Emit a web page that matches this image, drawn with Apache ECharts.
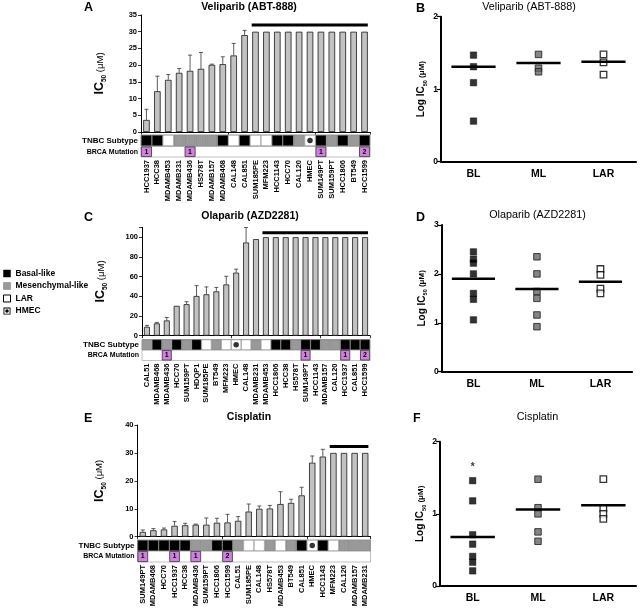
<!DOCTYPE html>
<html><head><meta charset="utf-8">
<script src="https://cdn.jsdelivr.net/npm/echarts@6/dist/echarts.min.js"></script>
<style>html,body{margin:0;padding:0;background:#fff}#c{width:641px;height:616px}</style>
</head><body><div id="c"></div>
<script>
// ---------------- DATA ----------------
// Panel A: Veliparib (ABT-888)
const catA = ['HCC1937','HCC38','MDAMB453','MDAMB231','MDAMB436','HS578T','MDAMB157','MDAMB468','CAL148','CAL851','SUM185PE','MFM223','HCC1143','HCC70','CAL120','HMEC','SUM149PT','SUM159PT','HCC1806','BT549','HCC1599'];
const valA = [3.6,12.2,15.6,17.7,18.3,18.9,20.1,20.3,22.9,29.0,30,30,30,30,30,30,30,30,30,30,30];
const errA = [3.2,4.5,1.6,1.3,4.7,4.9,0.2,2.2,3.6,1.4,0,0,0,0,0,0,0,0,0,0,0];
const subA = ['B','B','L','M','M','M','M','B','L','B','L','L','B','B','M','H','B','M','B','M','B'];
const brcaA = ['1','','','','1','','','','','','','','','','','','1','','','','2'];
const capA = {from:'SUM185PE', y:32};
const ticksA = {max:35, interval:5};

// Panel C: Olaparib (AZD2281)
const catC = ['CAL51','MDAMB468','MDAMB436','HCC70','SUM159PT','HDQP1','SUM185PE','BT549','MFM223','HMEC','CAL148','MDAMB231','MDAMB453','HCC1806','HCC38','HS578T','SUM149PT','HCC1143','MDAMB157','CAL120','HCC1937','CAL851','HCC1599'];
const valC = [9,12.5,15.5,30.3,32,40.3,42,45,52,64,94.6,98,100,100,100,100,100,100,100,100,100,100,100];
const errC = [1.5,1,3,0,2.5,10.5,7.5,4,8.3,3.5,15.2,0,0,0,0,0,0,0,0,0,0,0,0];
const subC = ['M','B','M','B','M','B','L','M','L','H','L','M','L','B','B','M','B','B','M','M','B','B','B'];
const brcaC = ['','','1','','','','','','','','','','','','','','1','','','','1','','2'];
const capC = {from:'MDAMB453', y:104.5};
const ticksC = {max:110, interval:20};

// Panel E: Cisplatin
const catE = ['SUM149PT','MDAMB468','HCC70','HCC1937','HCC38','MDAMB436','SUM159PT','HCC1806','HCC1599','CAL51','SUM185PE','CAL148','HS578T','MDAMB453','BT549','CAL851','HMEC','HCC1143','MFM223','CAL120','MDAMB157','MDAMB231'];
const valE = [1.7,2.3,2.6,3.9,4.1,4.3,4.3,5.0,5.1,5.7,9.0,10.0,10.1,11.7,12.1,14.8,26.5,28.7,30,30,30,30];
const errE = [0.7,0.6,0.5,1.5,0.7,0.2,2.4,1.6,2.9,1.5,2.7,1.0,1.1,4.4,1.3,2.9,2.4,2.6,0,0,0,0];
const subE = ['B','B','B','B','B','M','M','B','B','M','L','L','M','L','M','B','H','B','L','M','M','M'];
const brcaE = ['1','','','1','','1','','','2','','','','','','','','','','','','',''];
const capE = {from:'MFM223', y:32.3};
const ticksE = {max:40, interval:10};

// Scatter panels (log IC50 by subtype)
const groups = ['BL','ML','LAR'];
const logB = [[1.47,1.31,1.09,0.56],[1.48,1.29,1.24],[1.48,1.37,1.2]];
const meanB = [1.31,1.36,1.38];
const logD = [[2.45,2.3,2.22,2.0,1.6,1.48,1.06],[2.35,2.0,1.64,1.5,1.16,0.92],[2.1,1.98,1.7,1.6]];
const meanD = [1.9,1.69,1.84];
const logF = [[1.46,1.18,0.71,0.58,0.41,0.33,0.21],[1.48,1.085,1.0,0.75,0.62],[1.48,1.076,1.0,0.93]];
const meanF = [0.68,1.06,1.12];
const starF = [[0,1.65]];

const legendNames = ['Basal-like','Mesenchymal-like','LAR','HMEC'];

// ---------------- STYLE / LAYOUT ----------------
const FONT = '"Liberation Sans", Arial, Helvetica, sans-serif';
const SUB_KEYS = ['B','M','L','H'];
const SUB_COLOR = {B:'#000000', M:'#999999', L:'#ffffff', H:'#ffffff'};
const MUT_COLOR = '#d17fe0';

const grids = [], xAxes = [], yAxes = [], series = [];
function addGrid(g){ grids.push(Object.assign({containLabel:false}, g)); return grids.length - 1; }

function errRender(params, api){
  const e = api.value(2);
  if (!e) return null;
  const x = api.value(0), y = api.value(1);
  const p0 = api.coord([x, y]), p1 = api.coord([x, y + e]);
  return {type:'group', children:[
    {type:'line', shape:{x1:p0[0], y1:p0[1], x2:p1[0], y2:p1[1]}, style:{stroke:'#333', lineWidth:0.8}},
    {type:'line', shape:{x1:p1[0]-2, y1:p1[1], x2:p1[0]+2, y2:p1[1]}, style:{stroke:'#333', lineWidth:0.8}}
  ]};
}
function capRender(params, api){
  const a = api.coord([api.value(0), api.value(2)]);
  const b = api.coord([api.value(1), api.value(2)]);
  const bw = api.size([1, 0])[0];
  return {type:'line', shape:{x1:a[0]-bw*0.35, y1:a[1], x2:b[0]+bw*0.3, y2:b[1]}, style:{stroke:'#000', lineWidth:3}};
}
function meanRender(params, api){
  const p = api.coord([api.value(0), api.value(1)]);
  const bw = api.size([1, 0])[0];
  const hw = bw * 0.34;
  return {type:'line', shape:{x1:p[0]-hw, y1:p[1], x2:p[0]+hw, y2:p[1]}, style:{stroke:'#000', lineWidth:2.5}};
}

const icName = '{ic|IC}{sub|50}{u| (μM)}';
const icRich = {
  ic:{fontSize:12.5, fontWeight:'bold', fontFamily:FONT, color:'#000', lineHeight:16},
  sub:{fontSize:6.5, fontWeight:'bold', fontFamily:FONT, color:'#000', verticalAlign:'bottom', lineHeight:16},
  u:{fontSize:9.5, fontFamily:FONT, color:'#000', lineHeight:16}
};

function barPanel(d, L){
  const gi = addGrid({left:L.left, top:L.top, width:L.width, height:L.height});
  xAxes.push({gridIndex:gi, type:'category', data:d.cats,
    axisLine:{lineStyle:{color:'#000', width:1}},
    axisTick:{show:true, length:2.5, lineStyle:{color:'#000', width:0.8}},
    axisLabel:{show:false}, splitLine:{show:false}});
  yAxes.push({gridIndex:gi, type:'value', min:0, max:d.ticks.max, interval:d.ticks.interval,
    axisLine:{show:true, lineStyle:{color:'#000', width:1}},
    axisTick:{show:true, length:3, lineStyle:{color:'#000', width:0.8}},
    axisLabel:{fontSize:7.5, fontWeight:'bold', color:'#000', fontFamily:FONT, margin:4,
      formatter: v => (v % d.ticks.interval === 0 ? String(v) : '')},
    splitLine:{show:false},
    name:icName, nameLocation:'middle', nameRotate:90, nameGap:L.nameGap,
    nameTextStyle:{rich:icRich}});
  series.push({type:'bar', xAxisIndex:gi, yAxisIndex:gi, data:d.vals, barCategoryGap:'40%',
    itemStyle:{color:'#c2c2c2', borderColor:'#1a1a1a', borderWidth:0.8}, silent:true, z:2});
  series.push({type:'custom', xAxisIndex:gi, yAxisIndex:gi,
    data:d.vals.map((v,i)=>[i, v, d.errs[i]]), encode:{x:0, y:1}, renderItem:errRender, z:3, silent:true});
  const s = d.cats.indexOf(d.cap.from);
  series.push({type:'custom', xAxisIndex:gi, yAxisIndex:gi,
    data:[[s, d.cats.length-1, d.cap.y]], encode:{x:[0,1], y:2}, renderItem:capRender, z:4, silent:true});

  // TNBC subtype strip
  const gs = addGrid({left:L.left, top:L.stripTop, width:L.width, height:L.stripH, show:true, borderColor:'#777', borderWidth:0.6, backgroundColor:'#fff'});
  xAxes.push({gridIndex:gs, type:'category', data:d.cats, show:false});
  yAxes.push({gridIndex:gs, type:'value', min:0, max:1, interval:0.5,
    axisLine:{show:false}, axisTick:{show:false}, splitLine:{show:false},
    axisLabel:{formatter:v => v === 0.5 ? 'TNBC Subtype' : '', fontSize:8, fontWeight:'bold', color:'#000', fontFamily:FONT, margin:3}});
  SUB_KEYS.forEach((k, ki) => {
    series.push({type:'bar', name:legendNames[ki], xAxisIndex:gs, yAxisIndex:gs, barGap:'-100%', barCategoryGap:0,
      data:d.subs.map(sb => sb === k ? 1 : '-'),
      itemStyle:{color:SUB_COLOR[k], borderColor:'#777', borderWidth:0.5}, silent:true, z:2});
  });
  series.push({type:'scatter', xAxisIndex:gs, yAxisIndex:gs, symbol:'circle', symbolSize:5.5,
    data:d.subs.map((sb,i)=> sb === 'H' ? [i, 0.5] : null).filter(Boolean),
    itemStyle:{color:'#000'}, silent:true, z:5});

  // BRCA mutation strip
  const gb = addGrid({left:L.left, top:L.brcaTop, width:L.width, height:L.brcaH, show:true, borderColor:'#999', borderWidth:0.6, backgroundColor:'#fff'});
  xAxes.push({gridIndex:gb, type:'category', data:d.cats,
    axisLine:{show:false}, axisTick:{show:false},
    axisLabel:{interval:0, rotate:90, fontSize:7.5, fontWeight:'bold', color:'#000', fontFamily:FONT, margin:3}});
  yAxes.push({gridIndex:gb, type:'value', min:0, max:1, interval:0.5,
    axisLine:{show:false}, axisTick:{show:false}, splitLine:{show:false},
    axisLabel:{formatter:v => v === 0.5 ? 'BRCA Mutation' : '', fontSize:7, fontWeight:'bold', color:'#000', fontFamily:FONT, margin:3}});
  series.push({type:'bar', xAxisIndex:gb, yAxisIndex:gb, barCategoryGap:0,
    data:d.brca.map(b => b ? {value:1, itemStyle:{color:MUT_COLOR, borderColor:'#333', borderWidth:0.8}, label:{show:true, formatter:b}}
                           : {value:1, itemStyle:{color:'rgba(255,255,255,0)', borderWidth:0}, label:{show:false}}),
    label:{position:'inside', fontSize:7, fontWeight:'bold', color:'#000', fontFamily:FONT},
    silent:true, z:2});
}

const logName = '{a|Log IC}{s|50}{b| (μM)}';
const logRich = {
  a:{fontSize:10, fontWeight:'bold', fontFamily:FONT, color:'#000', lineHeight:13},
  s:{fontSize:5.5, fontWeight:'bold', fontFamily:FONT, color:'#000', verticalAlign:'bottom', lineHeight:13},
  b:{fontSize:8, fontWeight:'bold', fontFamily:FONT, color:'#000', lineHeight:13}
};
const GROUP_STYLE = [
  {color:'#000', borderColor:'#000', borderWidth:0.5},
  {color:'#666', borderColor:'#1a1a1a', borderWidth:1},
  {color:'#fff', borderColor:'#000', borderWidth:1.3}
];

function scatterPanel(d, L){
  const gi = addGrid({left:L.left, top:L.top, width:L.width, height:L.height});
  xAxes.push({gridIndex:gi, type:'category', data:groups,
    axisLine:{lineStyle:{color:'#000', width:2}}, axisTick:{show:false},
    axisLabel:{fontSize:10.5, fontWeight:'bold', color:'#000', fontFamily:FONT, margin:7}});
  yAxes.push({gridIndex:gi, type:'value', min:0, max:d.max, interval:1,
    axisLine:{show:true, lineStyle:{color:'#000', width:2}},
    axisTick:{show:true, length:4, lineStyle:{color:'#000', width:1.2}},
    axisLabel:{fontSize:8.5, fontWeight:'bold', color:'#000', fontFamily:FONT, margin:3},
    splitLine:{show:false},
    name:logName, nameLocation:'middle', nameRotate:90, nameGap:L.nameGap, nameTextStyle:{rich:logRich}});
  d.vals.forEach((vals, k) => {
    series.push({type:'scatter', xAxisIndex:gi, yAxisIndex:gi, symbol:'rect', symbolSize:6.5,
      data:vals.map(v => [k, v]), itemStyle:GROUP_STYLE[k], silent:true, z:3});
  });
  series.push({type:'custom', xAxisIndex:gi, yAxisIndex:gi, data:d.means.map((m,k)=>[k, m]),
    encode:{x:0, y:1}, renderItem:meanRender, z:4, silent:true});
  if (d.star) {
    series.push({type:'scatter', xAxisIndex:gi, yAxisIndex:gi, symbolSize:1, data:d.star,
      itemStyle:{color:'rgba(0,0,0,0)'},
      label:{show:true, position:'inside', formatter:'*', fontSize:10, fontWeight:'bold', color:'#000', fontFamily:FONT},
      silent:true, z:5});
  }
}

barPanel({cats:catA, vals:valA, errs:errA, subs:subA, brca:brcaA, cap:capA, ticks:ticksA},
  {left:141, top:15, width:229, height:117, stripTop:135, stripH:11, brcaTop:146.5, brcaH:10.5, nameGap:33});
barPanel({cats:catC, vals:valC, errs:errC, subs:subC, brca:brcaC, cap:capC, ticks:ticksC},
  {left:142, top:227.3, width:228, height:108.4, stripTop:339.5, stripH:10.5, brcaTop:350, brcaH:10.5, nameGap:33});
barPanel({cats:catE, vals:valE, errs:errE, subs:subE, brca:brcaE, cap:capE, ticks:ticksE},
  {left:137.5, top:425, width:233, height:111.7, stripTop:540, stripH:11, brcaTop:551, brcaH:11, nameGap:30});

scatterPanel({vals:logB, means:meanB, max:2}, {left:441, top:16.7, width:195, height:145, nameGap:13});
scatterPanel({vals:logD, means:meanD, max:3}, {left:441.7, top:225, width:190.5, height:146.7, nameGap:13});
scatterPanel({vals:logF, means:meanF, max:2, star:starF}, {left:440, top:441.7, width:196, height:144.3, nameGap:13});

function ttl(text, x, y, size, weight){
  return {text, left:x, top:y, textAlign:'center', padding:0,
    textStyle:{fontSize:size, fontWeight:weight, color:'#000', fontFamily:FONT}};
}
function letter(text, x, y){
  return {text, left:x, top:y, padding:0, textStyle:{fontSize:12.5, fontWeight:'bold', color:'#000', fontFamily:FONT}};
}

const option = {
  backgroundColor:'#fff',
  animation:false,
  title:[
    ttl('Veliparib (ABT-888)', 249, 2, 10.5, 'bold'),
    ttl('Olaparib (AZD2281)', 250, 211, 10.5, 'bold'),
    ttl('Cisplatin', 249, 412, 10.5, 'bold'),
    ttl('Veliparib (ABT-888)', 529, 1.5, 10.8, 'normal'),
    ttl('Olaparib (AZD2281)', 537.5, 210, 10.8, 'normal'),
    ttl('Cisplatin', 537.5, 412, 10.8, 'normal'),
    letter('A', 84, 1), letter('C', 84, 211), letter('E', 84, 412),
    letter('B', 416, 2), letter('D', 416, 211), letter('F', 413, 412)
  ],
  legend:{orient:'vertical', left:3, top:269, itemWidth:7, itemHeight:7, itemGap:3.5, padding:0,
    selectedMode:false,
    textStyle:{fontSize:8.5, fontWeight:'bold', color:'#000', fontFamily:FONT},
    data:[
      {name:'Basal-like', icon:'rect', itemStyle:{color:'#000', borderColor:'#000', borderWidth:0.5}},
      {name:'Mesenchymal-like', icon:'rect', itemStyle:{color:'#999', borderColor:'#777', borderWidth:0.5}},
      {name:'LAR', icon:'rect', itemStyle:{color:'#fff', borderColor:'#000', borderWidth:1}},
      {name:'HMEC', icon:'path://M0,0 L20,0 L20,20 L0,20 Z M2.5,2.5 L2.5,17.5 L17.5,17.5 L17.5,2.5 Z M10,5 A5,5 0 1,0 10,15 A5,5 0 1,0 10,5 Z', itemStyle:{color:'#000', borderWidth:0}}
    ]},
  grid:grids, xAxis:xAxes, yAxis:yAxes, series:series
};

const chart = echarts.init(document.getElementById('c'), null, {renderer:'canvas'});
chart.setOption(option);
</script></body></html>
